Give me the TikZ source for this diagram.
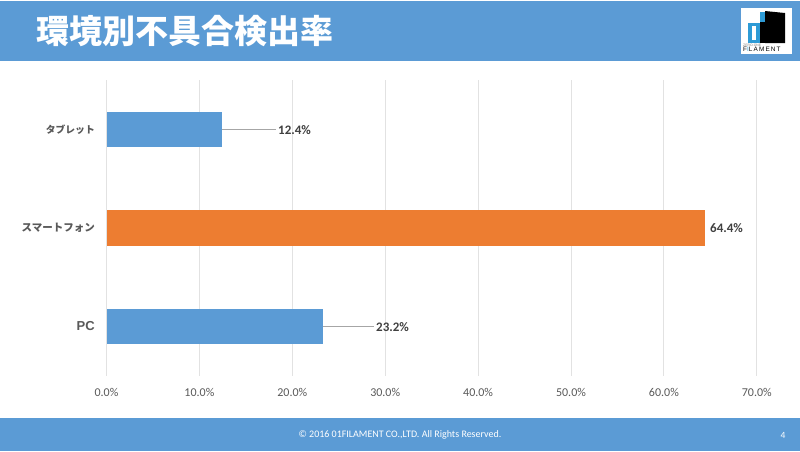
\documentclass[tikz,border=0pt]{standalone}
\usepackage{fontspec}
\setmainfont{Carlito}
\newfontfamily\jp{Noto Sans CJK JP}
\newfontfamily\arial{Liberation Sans}
\newfontfamily\logofont[LetterSpace=18]{Liberation Sans}
\definecolor{band}{HTML}{5B9BD5}
\definecolor{orangebar}{HTML}{ED7D31}
\definecolor{gridc}{HTML}{E2E2E2}
\definecolor{txt}{HTML}{595959}
\definecolor{lab}{HTML}{404040}
\definecolor{leader}{HTML}{A6A6A6}
\definecolor{logoblue}{HTML}{2E9BD6}
\tikzset{
  x=1pt,y=-1pt,
  gridline/.style={gridc,line width=1pt},
  bar/.style={draw=none,inner sep=0pt,minimum height=35.5pt,anchor=west},
  cat/.style={anchor=east,text=txt,inner sep=0pt,font=\jp\fontsize{10.5}{12}\selectfont\bfseries},
  tick/.style={anchor=center,text=txt,inner sep=0pt,font=\fontsize{12}{14}\selectfont},
  val/.style={anchor=west,text=lab,inner sep=0pt,font=\fontsize{13}{14}\selectfont\bfseries},
  leaderline/.style={leader,line width=0.8pt},
}
\begin{document}
\begin{tikzpicture}
\useasboundingbox (0,0) rectangle (800,451);
\fill[white] (0,0) rectangle (800,451);
% bands
\fill[band] (0,1) rectangle (800,60.5);
\fill[band] (0,417.5) rectangle (800,451);
\node[anchor=west,inner sep=0pt,text=white,font=\jp\fontsize{33}{36}\selectfont\bfseries] (title) at (36.5,31) {環境別不具合検出率};
\node[inner sep=0pt,text=white,font=\fontsize{10}{11}\selectfont] (foot) at (400,435) {© 2016 01FILAMENT CO.,LTD. All Rights Reserved.};
\node[inner sep=0pt,text=white,font=\fontsize{9.5}{11}\selectfont] (page) at (783,435) {4};
% logo
\fill[white] (741,7.5) rectangle (792,53.5);
\fill[black] (765,11) -- (785,13) -- (785,43) -- (765,43) -- cycle;
\fill[logoblue] (760,12) rectangle (765,22);
\fill[black] (760,22) rectangle (775,43);
\fill[logoblue] (748,23) -- (760,23) -- (760,43) -- (748,43) -- cycle;
\fill[white] (752,26) rectangle (755.5,40);
\node[anchor=west,inner sep=0pt,text=gray,font=\arial\fontsize{3.4}{4}\selectfont] (logosub) at (743,45) {ZERO-ONE};
\node[anchor=west,inner sep=0pt,text=black,font=\logofont\fontsize{6.4}{7}\selectfont] (logotext) at (743,49.7) {F{\color{logoblue}I}LAMENT};
% grid
\foreach \i in {0,...,7}{
  \draw[gridline] ({106.5+92.9*\i},80) -- ({106.5+92.9*\i},376);
  \pgfmathtruncatemacro{\p}{\i*10}
  \node[tick] at ({106.5+92.9*\i},392) {\p.0\%};
}
% bars
\node[bar,fill=band,minimum width=115pt] (b1) at (106.5,129.5) {};
\node[bar,fill=orangebar,minimum width=598.5pt] (b2) at (106.5,228) {};
\node[bar,fill=band,minimum width=215.8pt] (b3) at (106.5,326.5) {};
% category labels
\node[cat,font=\jp\fontsize{9.8}{12}\selectfont\bfseries] (c1) at (95,129.5) {タブレット};
\node[cat] (c2) at (95,228) {スマートフォン};
\node[cat,font=\arial\fontsize{13}{14}\selectfont\bfseries] (c3) at (95,326.5) {PC};
% values
\node[val] (v1) at (278,130) {12.4\%};
\node[val] (v2) at (710,228.5) {64.4\%};
\node[val] (v3) at (376,327) {23.2\%};
\coordinate (e1) at (275.5,129.5);
\coordinate (e3) at (373.5,326.5);
\draw[leaderline] (b1.east) -- (e1);
\draw[leaderline] (b3.east) -- (e3);
\end{tikzpicture}
\end{document}
